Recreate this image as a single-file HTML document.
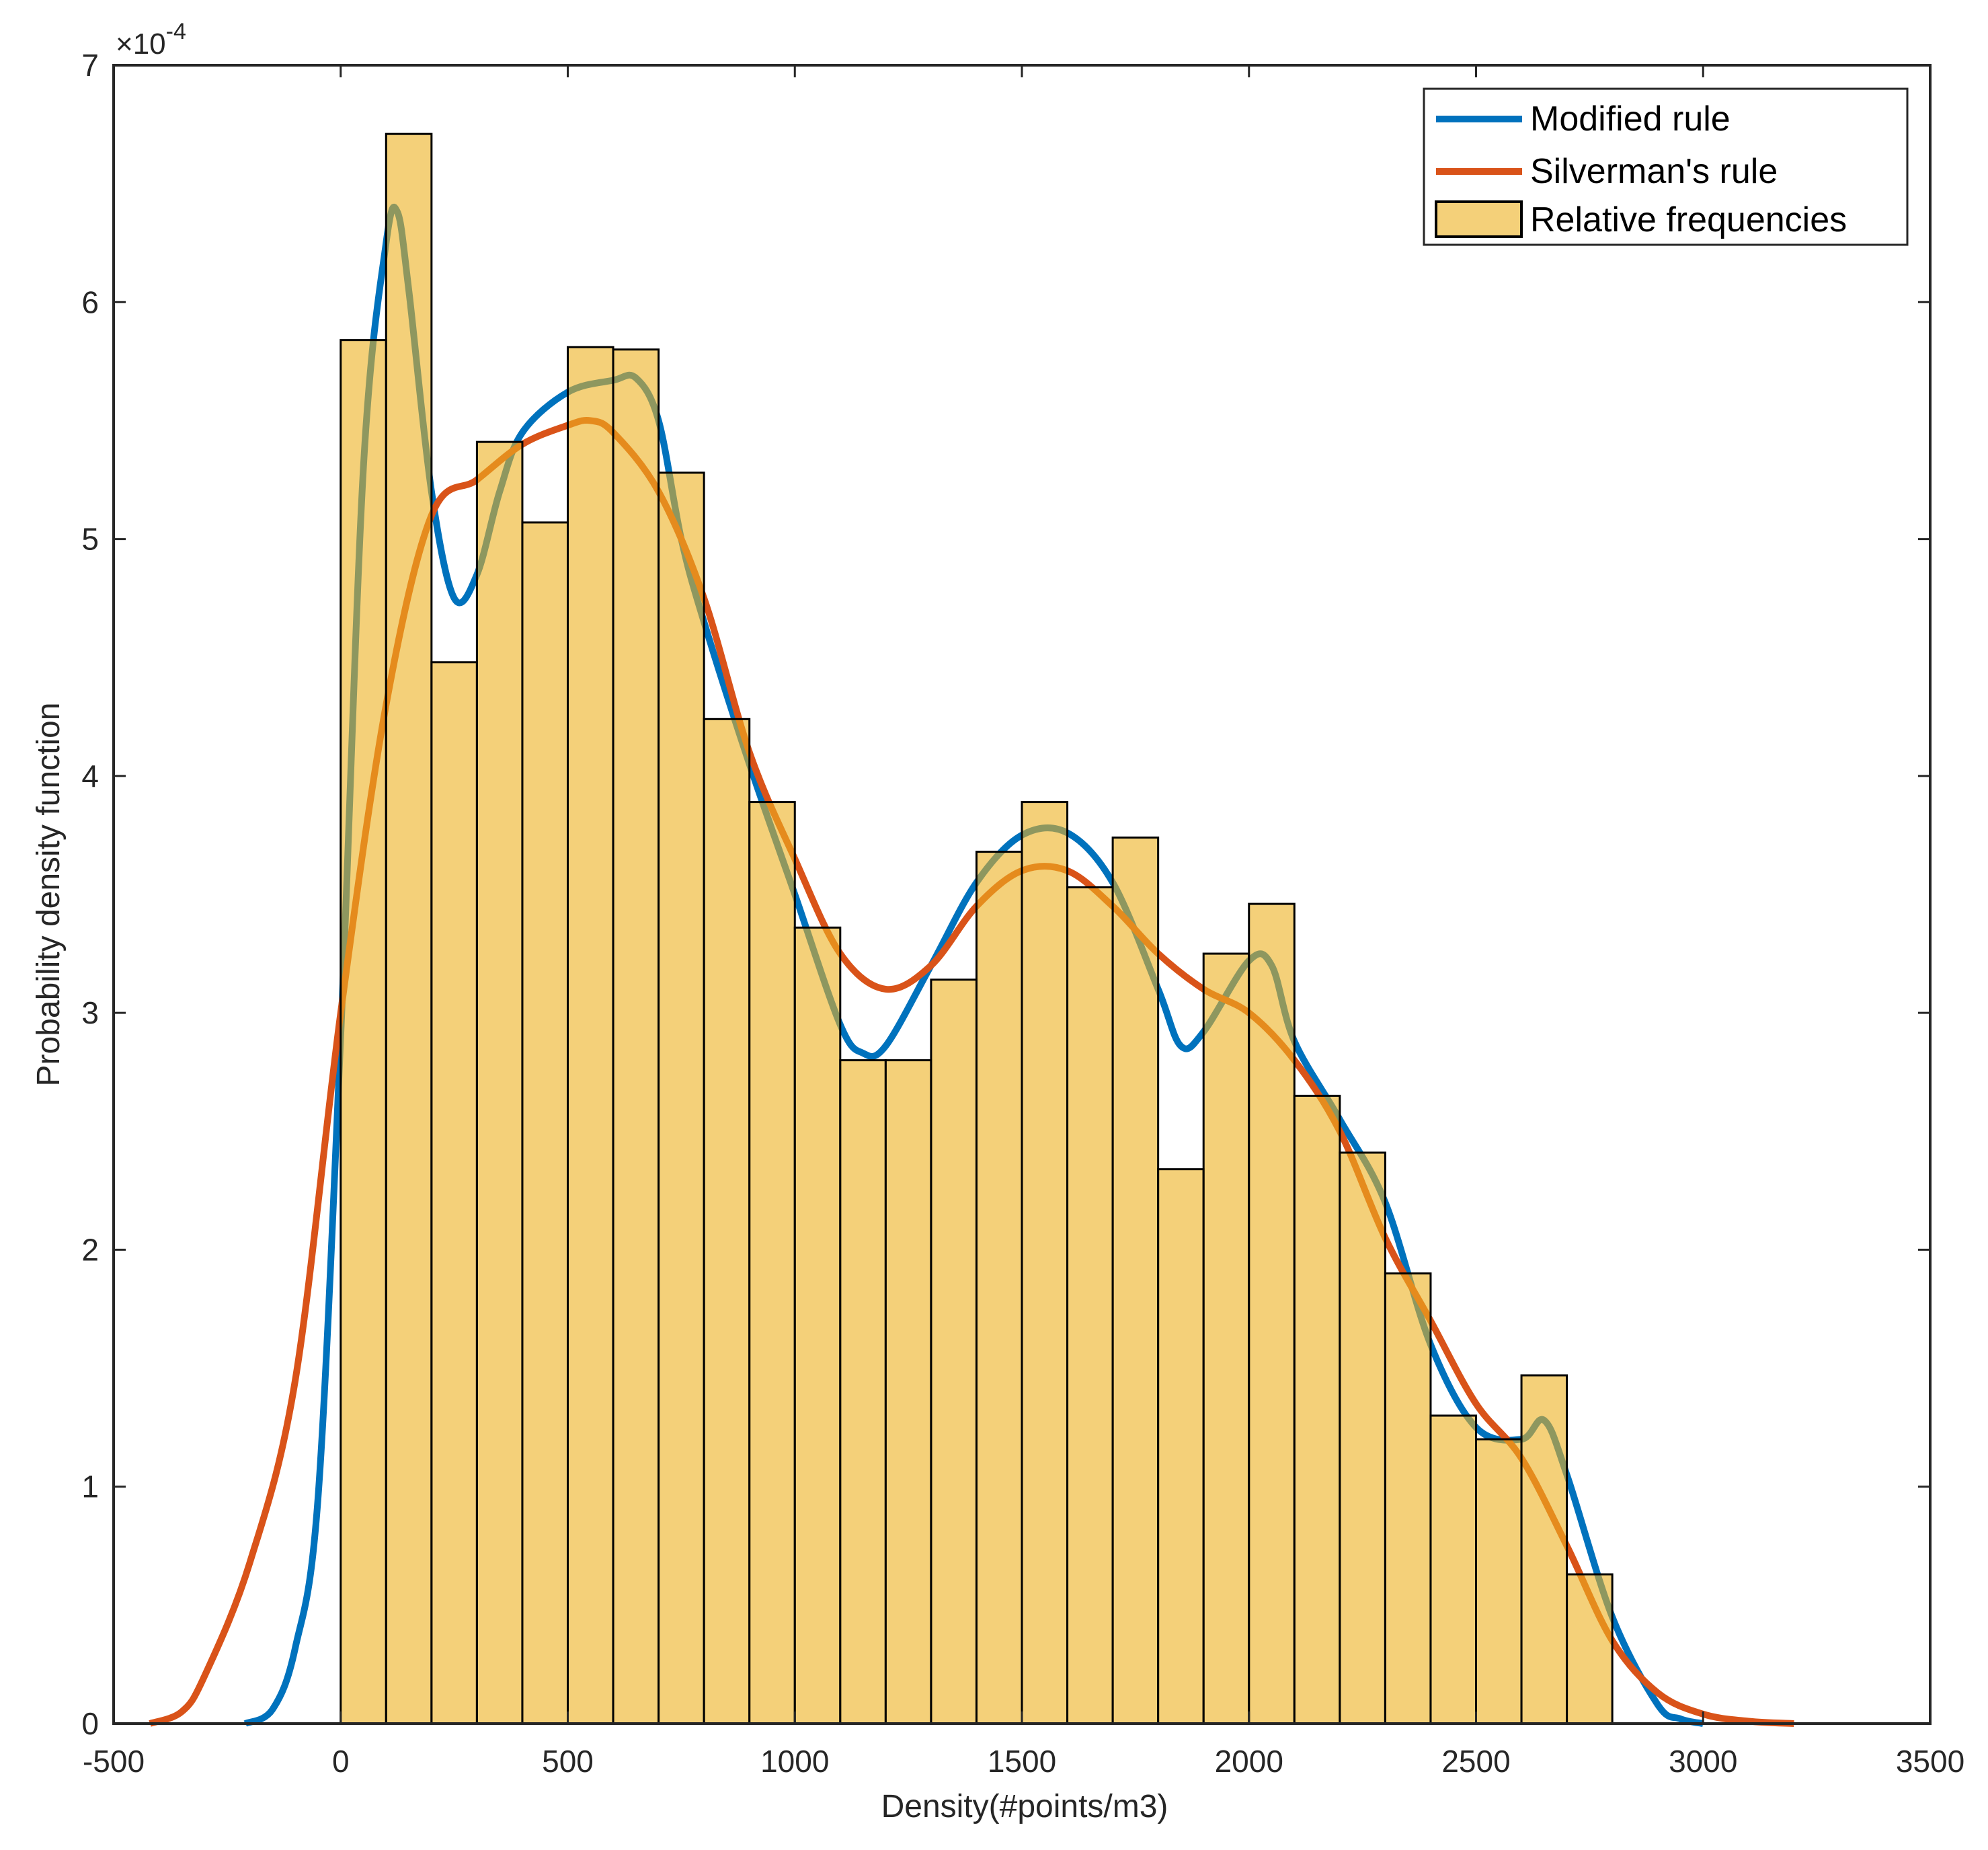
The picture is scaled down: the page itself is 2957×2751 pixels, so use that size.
<!DOCTYPE html>
<html><head><meta charset="utf-8"><style>
html,body{margin:0;padding:0;background:#fff;}
svg{display:block;font-family:"Liberation Sans",Arial,sans-serif;}
</style></head><body>
<svg id="chart" width="2957" height="2751" viewBox="0 0 2957 2751" xmlns="http://www.w3.org/2000/svg">
<rect width="2957" height="2751" fill="#fff"/>
<g id="plot"></g>
<g id="axes"></g>
<text x="1524" y="2702" font-size="48" text-anchor="middle" fill="#262626">Density(#points/m3)</text>
<text transform="translate(88,1330) rotate(-90)" font-size="48" text-anchor="middle" fill="#262626">Probability density function</text>
<text x="172" y="80" font-size="44" fill="#262626">×10<tspan dy="-22" font-size="34">-4</tspan></text>
<g>
<rect x="2118" y="132" width="719" height="232" fill="#fff" stroke="#262626" stroke-width="3"/>
<line x1="2136" y1="177" x2="2264" y2="177" stroke="#0072BD" stroke-width="10"/>
<text x="2276" y="194" font-size="52" fill="#000">Modified rule</text>
<line x1="2136" y1="255" x2="2264" y2="255" stroke="#D95319" stroke-width="10"/>
<text x="2276" y="272" font-size="52" fill="#000">Silverman's rule</text>
<rect x="2136" y="300" width="127" height="52" fill="#EDB120" fill-opacity="0.6" stroke="#000" stroke-width="4"/>
<text x="2276" y="344" font-size="52" fill="#000">Relative frequencies</text>
</g>
</svg>
<script>
const binEdgesStart = [0,100,200,300,400,500,600,700,800,900,1000,1100,1200,1300,1400,1500,1600,1700,1800,1900,2000,2100,2200,2300,2400,2500,2600,2700];
const binHeights = [5.84,6.71,4.48,5.41,5.07,5.81,5.80,5.28,4.24,3.89,3.36,2.80,2.80,3.14,3.68,3.89,3.53,3.74,2.34,3.25,3.46,2.65,2.41,1.90,1.30,1.20,1.47,0.63];
const binWidth = 100;
const modX = [-210,-150,-100,-50,0,50,100,125,150,200,250,300,350,400,500,600,650,700,750,800,900,1000,1100,1150,1200,1300,1400,1500,1600,1700,1800,1850,1900,2000,2050,2100,2200,2300,2400,2500,2600,2650,2700,2800,2900,2950,3000];
const modY = [0,0.06,0.32,0.95,2.9,5.3,6.25,6.38,6.05,5.2,4.75,4.85,5.2,5.45,5.62,5.67,5.68,5.5,5.0,4.65,4.05,3.5,2.95,2.83,2.86,3.2,3.55,3.75,3.76,3.55,3.1,2.86,2.92,3.22,3.2,2.88,2.55,2.2,1.6,1.25,1.2,1.28,1.05,0.45,0.08,0.02,0];
const silX = [-420,-350,-300,-200,-100,0,100,200,300,400,500,550,600,700,800,900,1000,1100,1200,1300,1400,1500,1600,1700,1800,1900,2000,2100,2200,2300,2400,2500,2600,2700,2800,2900,3000,3100,3200];
const silY = [0,0.05,0.2,0.68,1.45,3.0,4.3,5.1,5.25,5.4,5.48,5.5,5.45,5.2,4.75,4.1,3.65,3.25,3.1,3.2,3.45,3.6,3.6,3.45,3.25,3.1,3.0,2.8,2.5,2.05,1.7,1.35,1.12,0.75,0.35,0.13,0.04,0.01,0];
const xTicks = [-500,0,500,1000,1500,2000,2500,3000,3500];
const xTickLabels = ["-500","0","500","1000","1500","2000","2500","3000","3500"];
const yTicks = [0,1,2,3,4,5,6,7];
const yTickLabels = ["0","1","2","3","4","5","6","7"];

const L=169,R=2871,T=97,B=2563,xmin=-500,xmax=3500,ymax=7;
const sx=v=>L+(v-xmin)/(xmax-xmin)*(R-L);
const sy=v=>B-v/ymax*(B-T);
const NS="http://www.w3.org/2000/svg";
const plot=document.getElementById('plot'), axes=document.getElementById('axes');
function mk(tag,attrs,parent){const e=document.createElementNS(NS,tag);for(const k in attrs)e.setAttribute(k,attrs[k]);parent.appendChild(e);return e;}
function smooth(xs,ys){
  const p=xs.map((x,i)=>[sx(x),sy(ys[i])]);
  let d='M'+p[0][0]+','+p[0][1];
  for(let i=0;i<p.length-1;i++){
    const p0=p[Math.max(0,i-1)],p1=p[i],p2=p[i+1],p3=p[Math.min(p.length-1,i+2)];
    const c1x=p1[0]+(p2[0]-p0[0])/6,c1y=p1[1]+(p2[1]-p0[1])/6;
    const c2x=p2[0]-(p3[0]-p1[0])/6,c2y=p2[1]-(p3[1]-p1[1])/6;
    d+=' C'+c1x+','+c1y+' '+c2x+','+c2y+' '+p2[0]+','+p2[1];
  }
  return d;
}
const blue=mk('path',{d:smooth(modX,modY),fill:'none',stroke:'#0072BD','stroke-width':10,'stroke-linejoin':'round'},plot);


const red=mk('path',{d:smooth(silX,silY),fill:'none',stroke:'#D95319','stroke-width':10,'stroke-linejoin':'round'},plot);


binHeights.forEach((h,i)=>{
  const x0=sx(binEdgesStart[i]),x1=sx(binEdgesStart[i]+binWidth);
  const r=mk('rect',{x:x0,y:sy(h),width:x1-x0,height:B-sy(h),fill:'#EDB120','fill-opacity':0.6,stroke:'#000','stroke-width':3},plot);
  
  
});
const box=mk('rect',{x:L,y:T,width:R-L,height:B-T,fill:'none',stroke:'#262626','stroke-width':4},axes);


xTicks.forEach((v,i)=>{
  const x=sx(v);
  mk('line',{x1:x,y1:B,x2:x,y2:B-18,stroke:'#262626','stroke-width':3},axes);
  mk('line',{x1:x,y1:T,x2:x,y2:T+18,stroke:'#262626','stroke-width':3},axes);
  const t=mk('text',{x:x,y:B+72,'font-size':46,'text-anchor':'middle',fill:'#262626'},axes);
  t.textContent=xTickLabels[i];
  
  
});
yTicks.forEach((v,i)=>{
  const y=sy(v);
  mk('line',{x1:L,y1:y,x2:L+18,y2:y,stroke:'#262626','stroke-width':3},axes);
  mk('line',{x1:R,y1:y,x2:R-18,y2:y,stroke:'#262626','stroke-width':3},axes);
  const t=mk('text',{x:L-22,y:y+16,'font-size':46,'text-anchor':'end',fill:'#262626'},axes);
  t.textContent=yTickLabels[i];
  
  
});
</script>
</body></html>
